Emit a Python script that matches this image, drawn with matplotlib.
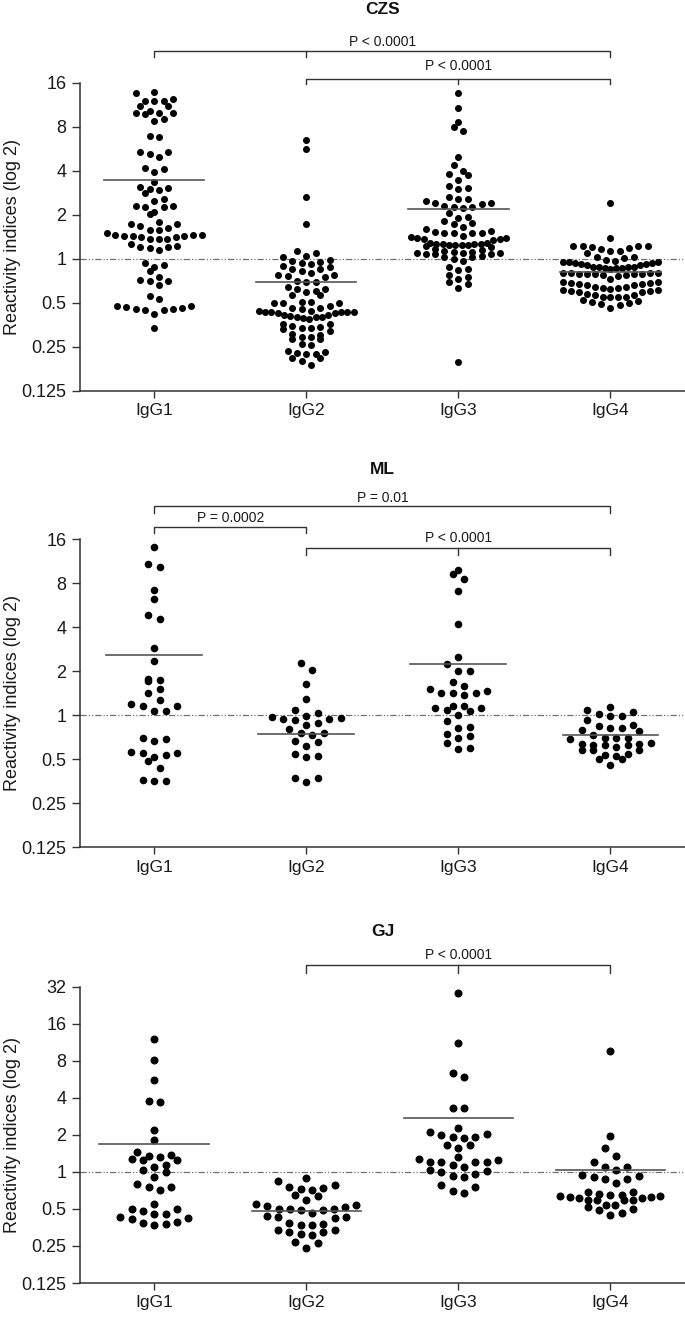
import numpy as np
import matplotlib
matplotlib.use('Agg')
import matplotlib.pyplot as plt
from matplotlib import font_manager as fm
from matplotlib.lines import Line2D
from matplotlib.transforms import blended_transform_factory
from matplotlib.ticker import NullLocator

# ---------------- data ----------------
categories = ['IgG1', 'IgG2', 'IgG3', 'IgG4']
panel_titles = ['CZS', 'ML', 'GJ']

CZS_IgG1 = [13.9, 13.5, 12.3, 12.0, 11.9, 11.9, 11.1, 11.0, 10.2, 10.0, 9.9, 9.9, 9.7, 9.0, 8.8,
            6.9, 6.8, 5.4, 5.4, 5.2, 5.0, 4.2, 4.1, 3.9, 3.36, 3.1, 3.03, 2.98, 2.95, 2.8,
            2.56, 2.49, 2.29, 2.29, 2.25, 2.25, 2.1, 2.02, 1.79, 1.73, 1.73, 1.68, 1.61, 1.57,
            1.57, 1.51, 1.45, 1.45, 1.45, 1.43, 1.43, 1.43, 1.41, 1.40, 1.36, 1.36, 1.36, 1.26,
            1.23, 1.21, 1.21, 1.18, 1.15, 0.94, 0.90, 0.88, 0.83, 0.75, 0.72, 0.70, 0.70, 0.66,
            0.56, 0.53, 0.475, 0.475, 0.47, 0.457, 0.45, 0.45, 0.446, 0.446, 0.42, 0.334]
CZS_IgG2 = [6.5, 5.6, 2.63, 1.74, 1.13, 1.09, 1.05, 1.02, 0.98, 0.97, 0.955, 0.94, 0.92, 0.89,
            0.88, 0.846, 0.846, 0.828, 0.794, 0.774, 0.774, 0.76, 0.754, 0.707, 0.696, 0.689,
            0.643, 0.617, 0.617, 0.604, 0.595, 0.564, 0.564, 0.508, 0.503, 0.50, 0.495, 0.495,
            0.477, 0.458, 0.458, 0.45, 0.441, 0.438, 0.434, 0.434, 0.434, 0.43, 0.43, 0.427,
            0.423, 0.412, 0.412, 0.406, 0.401, 0.401, 0.401, 0.39, 0.387, 0.355, 0.355, 0.346,
            0.343, 0.334, 0.334, 0.329, 0.322, 0.304, 0.30, 0.293, 0.293, 0.282, 0.282, 0.26,
            0.256, 0.233, 0.231, 0.225, 0.222, 0.222, 0.209, 0.209, 0.20, 0.188]
CZS_IgG3 = [13.7, 10.7, 8.56, 7.92, 7.43, 4.99, 4.40, 3.98, 3.8, 3.73, 3.47, 3.14, 3.06, 3.0,
            2.66, 2.56, 2.56, 2.49, 2.39, 2.39, 2.35, 2.3, 2.27, 2.25, 2.21, 2.06, 1.92, 1.89,
            1.82, 1.75, 1.72, 1.66, 1.59, 1.55, 1.52, 1.51, 1.49, 1.49, 1.49, 1.44, 1.40, 1.39,
            1.38, 1.37, 1.36, 1.34, 1.29, 1.29, 1.27, 1.27, 1.26, 1.26, 1.25, 1.25, 1.25, 1.25,
            1.22, 1.21, 1.16, 1.14, 1.13, 1.11, 1.11, 1.10, 1.09, 1.09, 1.08, 1.07, 1.07, 1.05,
            1.03, 1.03, 0.994, 0.964, 0.872, 0.85, 0.836, 0.773, 0.753, 0.726, 0.689, 0.671,
            0.633, 0.195]
CZS_IgG4 = [2.42, 1.38, 1.23, 1.23, 1.23, 1.22, 1.21, 1.18, 1.16, 1.13, 1.13, 1.10, 1.03, 1.03,
            1.016, 0.979, 0.969, 0.954, 0.954, 0.954, 0.939, 0.93, 0.92, 0.92, 0.905, 0.905,
            0.882, 0.882, 0.882, 0.873, 0.868, 0.859, 0.859, 0.846, 0.802, 0.802, 0.794, 0.794,
            0.786, 0.786, 0.781, 0.781, 0.781, 0.773, 0.773, 0.76, 0.722, 0.696, 0.696, 0.678,
            0.678, 0.671, 0.671, 0.657, 0.657, 0.636, 0.636, 0.627, 0.627, 0.623, 0.61, 0.61,
            0.604, 0.604, 0.588, 0.588, 0.575, 0.564, 0.564, 0.549, 0.549, 0.544, 0.544, 0.521,
            0.516, 0.508, 0.495, 0.49, 0.482, 0.462]

ML_IgG1 = [14.2, 10.9, 10.35, 7.16, 6.22, 4.83, 4.59, 2.9, 2.34, 1.76, 1.74, 1.72, 1.51, 1.43,
           1.27, 1.2, 1.16, 1.15, 1.07, 1.065, 0.70, 0.69, 0.664, 0.561, 0.555, 0.552, 0.533,
           0.519, 0.485, 0.439, 0.363, 0.354, 0.354]
ML_IgG2 = [2.29, 2.03, 1.63, 1.29, 1.08, 1.03, 0.984, 0.974, 0.959, 0.949, 0.949, 0.924, 0.886,
           0.854, 0.806, 0.761, 0.761, 0.738, 0.664, 0.657, 0.617, 0.547, 0.527, 0.519, 0.375,
           0.372, 0.35]
ML_IgG3 = [9.92, 9.32, 8.57, 7.09, 4.19, 2.52, 2.24, 2.01, 2.0, 1.69, 1.59, 1.52, 1.46, 1.42,
           1.41, 1.41, 1.38, 1.16, 1.15, 1.13, 1.12, 1.08, 1.065, 1.0, 0.91, 0.832, 0.823, 0.749,
           0.722, 0.70, 0.65, 0.598, 0.591]
ML_IgG4 = [1.14, 1.08, 1.054, 1.016, 0.99, 0.984, 0.934, 0.863, 0.846, 0.823, 0.819, 0.798,
           0.781, 0.73, 0.70, 0.70, 0.70, 0.692, 0.647, 0.633, 0.633, 0.623, 0.623, 0.623, 0.607,
           0.582, 0.576, 0.576, 0.541, 0.538, 0.527, 0.505, 0.505, 0.455]

GJ_IgG1 = [12.1, 8.05, 5.57, 3.76, 3.69, 2.21, 1.83, 1.45, 1.38, 1.34, 1.32, 1.28, 1.24, 1.24,
           1.13, 1.09, 1.045, 0.994, 0.905, 0.799, 0.755, 0.75, 0.718, 0.549, 0.503, 0.503,
           0.485, 0.455, 0.455, 0.43, 0.422, 0.417, 0.392, 0.385, 0.377, 0.368]
GJ_IgG2 = [0.894, 0.84, 0.789, 0.75, 0.741, 0.727, 0.718, 0.654, 0.634, 0.588, 0.549, 0.536,
           0.526, 0.516, 0.503, 0.503, 0.50, 0.494, 0.488, 0.464, 0.436, 0.43, 0.428, 0.422,
           0.385, 0.377, 0.372, 0.368, 0.339, 0.335, 0.325, 0.323, 0.313, 0.309, 0.268, 0.264,
           0.241]
GJ_IgG3 = [28.6, 11.2, 6.39, 5.89, 3.32, 3.28, 2.28, 2.1, 2.04, 1.99, 1.93, 1.91, 1.89, 1.64,
           1.64, 1.57, 1.32, 1.28, 1.26, 1.21, 1.2, 1.2, 1.2, 1.13, 1.09, 1.045, 1.01, 1.0, 0.969,
           0.934, 0.911, 0.789, 0.75, 0.696, 0.675]
GJ_IgG4 = [9.59, 1.95, 1.57, 1.34, 1.2, 1.10, 1.09, 1.045, 0.951, 0.922, 0.911, 0.883, 0.883,
           0.814, 0.688, 0.688, 0.666, 0.654, 0.646, 0.634, 0.634, 0.626, 0.626, 0.614, 0.614,
           0.595, 0.595, 0.595, 0.588, 0.535, 0.535, 0.516, 0.50, 0.488, 0.464, 0.45]

CZS_means = [3.45, 0.696, 2.18, 0.815]
ML_means = [2.59, 0.75, 2.24, 0.73]
GJ_means = [1.69, 0.485, 2.73, 1.03]

CZS_tests = [(1, 4, 'P < 0.0001'), (2, 4, 'P < 0.0001')]
ML_tests = [(1, 4, 'P = 0.01'), (1, 2, 'P = 0.0002'), (2, 4, 'P < 0.0001')]
GJ_tests = [(2, 4, 'P < 0.0001')]

yticks_small = [0.125, 0.25, 0.5, 1, 2, 4, 8, 16]
ylabels_small = ['0.125', '0.25', '0.5', '1', '2', '4', '8', '16']
yticks_big = [0.125, 0.25, 0.5, 1, 2, 4, 8, 16, 32]
ylabels_big = ['0.125', '0.25', '0.5', '1', '2', '4', '8', '16', '32']

# ---------------- style ----------------
W, H, DPI = 685, 1320, 100
_names = {f.name for f in fm.fontManager.ttflist}
NARROW = None
for cand in ('Liberation Sans Narrow', 'Arial Narrow'):
    if cand in _names:
        NARROW = cand
        break
if NARROW:
    plt.rcParams['font.family'] = [NARROW, 'DejaVu Sans']
    fs_tick, fs_xt, fs_p, fs_title, fs_lab = 14.5, 14.5, 11.5, 12.5, 14.5
else:
    plt.rcParams['font.family'] = ['Liberation Sans', 'DejaVu Sans']
    fs_tick, fs_xt, fs_p, fs_title, fs_lab = 13.0, 12.5, 10.0, 12.5, 13.0

AXC = '#333333'
TXC = '#1a1a1a'
fig = plt.figure(figsize=(W / DPI, H / DPI), dpi=DPI)


def swarm_x(ax, pos, vals, diam, sp, maxw):
    vals = np.asarray(vals, float)
    bb = ax.get_window_extent()
    lo, hi = ax.get_ylim()
    ppl = bb.height / (np.log2(hi) - np.log2(lo))
    x0, x1 = ax.get_xlim()
    ppx = bb.width / (x1 - x0)
    yp = np.log2(vals) * ppl
    order = np.argsort(yp, kind='stable')
    rows, cur = [], [order[0]]
    for i in order[1:]:
        if yp[i] - yp[cur[0]] < diam:
            cur.append(i)
        else:
            rows.append(cur)
            cur = [i]
    rows.append(cur)
    xs = np.zeros(len(vals))
    for r in rows:
        n = len(r)
        s = sp if n < 2 else min(sp, maxw / (n - 1))
        if n % 2:
            slots = [0] + [k for j in range(1, n // 2 + 1) for k in (j, -j)]
        else:
            slots = [k for j in range(n // 2) for k in (j + 0.5, -(j + 0.5))]
        for idx, sl in zip(r, slots):
            xs[idx] = pos + sl * s / ppx
    return xs


panels = [
    dict(title='CZS', data=[CZS_IgG1, CZS_IgG2, CZS_IgG3, CZS_IgG4], means=CZS_means,
         tests=CZS_tests, top=82.7, bottom=390.7, ymax=16, ticks=(yticks_small, ylabels_small),
         ms_px=7.0, sp=9.3, maxw=95, hw=0.33, title_y=10,
         br=[(50.7, 57.3, 41.7, [2]), (78.7, 83.6, 65.7, [3])]),
    dict(title='ML', data=[ML_IgG1, ML_IgG2, ML_IgG3, ML_IgG4], means=ML_means,
         tests=ML_tests, top=539.3, bottom=847.3, ymax=16, ticks=(yticks_small, ylabels_small),
         ms_px=7.6, sp=11.5, maxw=90, hw=0.315, title_y=470,
         br=[(506.3, 513.3, 498.3, []), (526.7, 533.3, 518.3, []), (547.7, 555.0, 538.3, [3])]),
    dict(title='GJ', data=[GJ_IgG1, GJ_IgG2, GJ_IgG3, GJ_IgG4], means=GJ_means,
         tests=GJ_tests, top=986.7, bottom=1283.0, ymax=32, ticks=(yticks_big, ylabels_big),
         ms_px=8.0, sp=11.3, maxw=100, hw=0.36, title_y=932,
         br=[(965.0, 972.7, 955.0, [3])]),
]

LEFT = 80
for P in panels:
    ax = fig.add_axes([LEFT / W, 1 - P['bottom'] / H, (W - LEFT) / W,
                       (P['bottom'] - P['top']) / H])
    ax.set_yscale('log', base=2)
    ax.set_ylim(0.125, P['ymax'])
    ax.set_xlim(0.512, 4.49)
    ax.set_yticks(P['ticks'][0])
    ax.set_yticklabels(P['ticks'][1])
    ax.yaxis.set_minor_locator(NullLocator())
    ax.set_xticks(range(1, 5))
    ax.set_xticklabels(categories)
    for s in ('top', 'right'):
        ax.spines[s].set_visible(False)
    for s in ('left', 'bottom'):
        ax.spines[s].set_color(AXC)
        ax.spines[s].set_linewidth(1.1)
    ax.tick_params(axis='y', length=5.8, width=1.0, color=AXC, pad=4.0,
                   labelsize=fs_tick, labelcolor=TXC)
    ax.tick_params(axis='x', length=5.0, width=1.0, color=AXC, pad=4.0,
                   labelsize=fs_xt, labelcolor=TXC)
    ax.patch.set_alpha(0)

    ax.axhline(1, color='#707070', lw=0.9, ls=(0, (5, 1.6, 1, 1.6, 1, 1.6)), zorder=1)

    d = P['ms_px']
    for i, vals in enumerate(P['data']):
        pos = i + 1
        xs = swarm_x(ax, pos, vals, d * 1.15, P['sp'], P['maxw'])
        ax.plot(xs, vals, 'o', color='black', ms=d * 0.72, mew=0, zorder=3, clip_on=False)
        m = P['means'][i]
        ax.plot([pos - P['hw'], pos + P['hw']], [m, m], color='#555555', lw=1.2, zorder=4)

    tr = blended_transform_factory(ax.transData, fig.transFigure)
    for (a, b, label), (yl, ye, yt, mids) in zip(P['tests'], P['br']):
        fy = lambda p: 1 - p / H
        fig.add_artist(Line2D([a, a, b, b], [fy(ye), fy(yl), fy(yl), fy(ye)],
                              transform=tr, color=AXC, lw=1.0))
        for mx in mids:
            fig.add_artist(Line2D([mx, mx], [fy(yl), fy(ye)], transform=tr, color=AXC, lw=1.0))
        fig.text((a + b) / 2, fy(yt), label, transform=tr, ha='center', va='center',
                 fontsize=fs_p, color=TXC)

    fig.text((LEFT + W) / 2 / W, 1 - P['title_y'] / H, P['title'], ha='center', va='center',
             fontsize=fs_title, fontweight='bold', color='#111111')
    fig.text(13 / W, 1 - (P['top'] + P['bottom']) / 2 / H, 'Reactivity indices (log 2)',
             rotation=90, ha='center', va='center', fontsize=fs_lab, color=TXC)

fig.savefig('out.png', dpi=DPI)
